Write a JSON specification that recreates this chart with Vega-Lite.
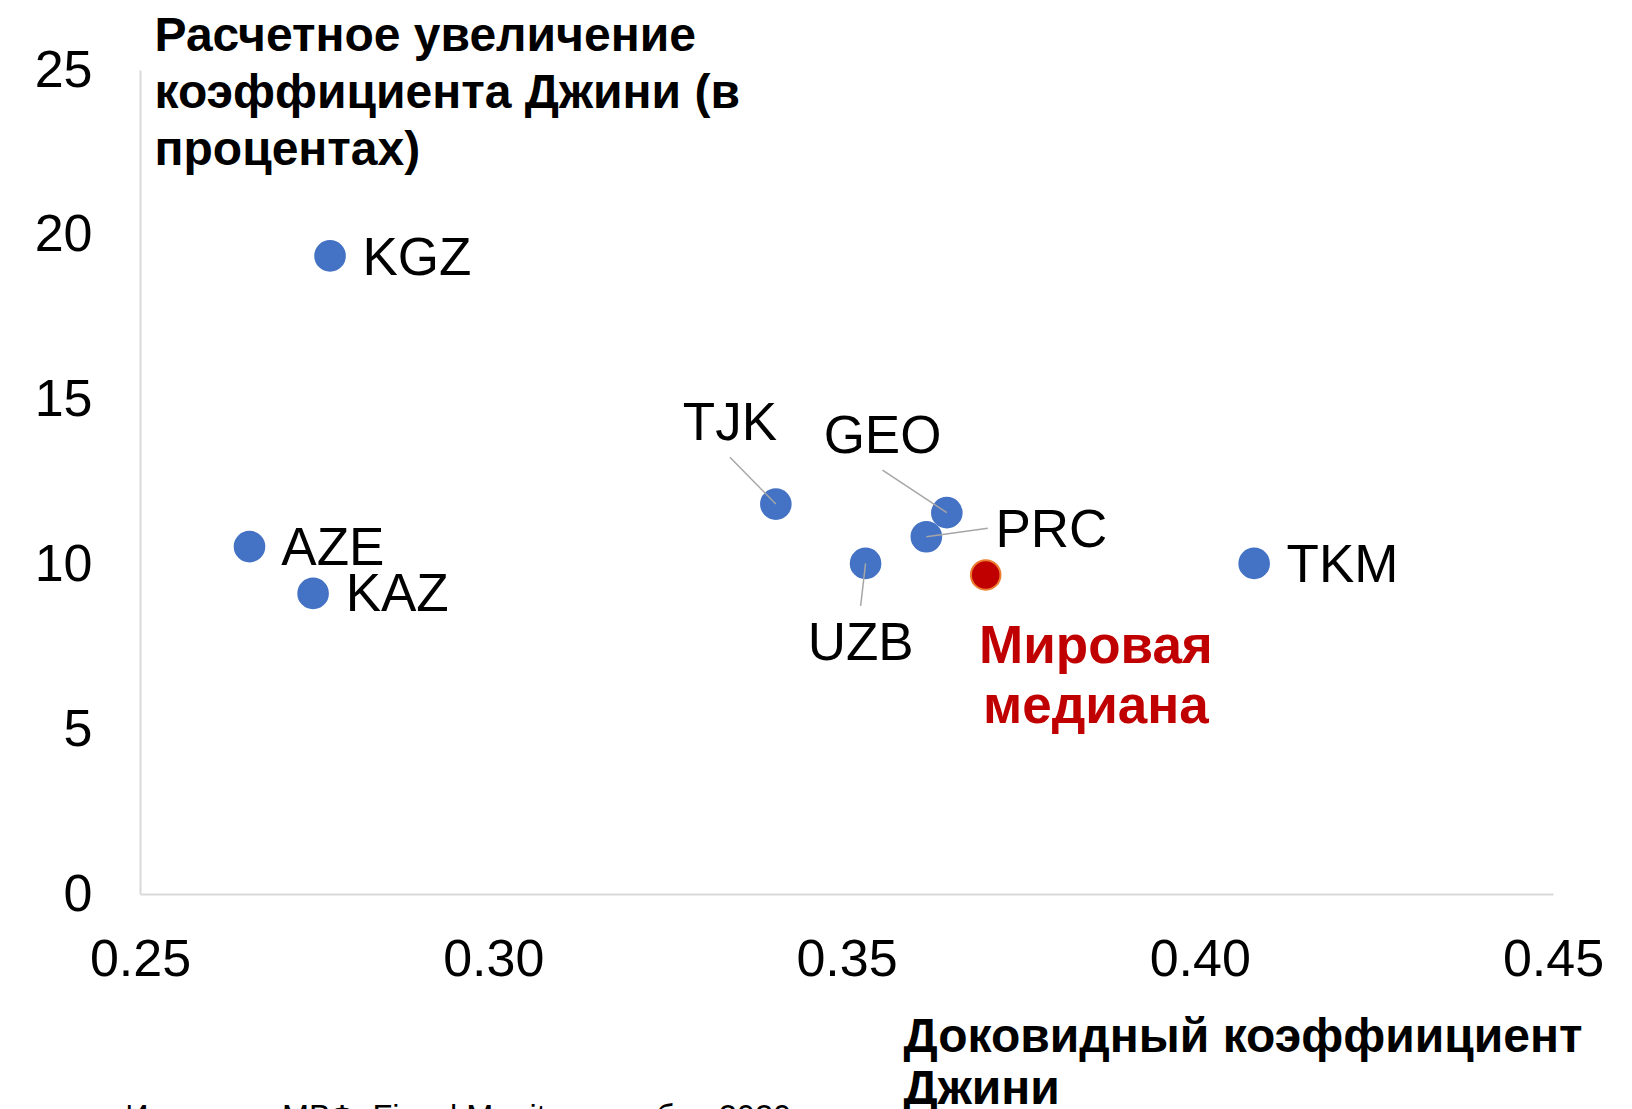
{
  "$schema": "https://vega.github.io/schema/vega-lite/v6.json",
  "width": 1413,
  "height": 824,
  "autosize": {"type": "none"},
  "padding": {"left": 140, "top": 70, "right": 79, "bottom": 215},
  "background": "white",
  "config": {"view": {"stroke": null}, "font": "Liberation Sans"},
  "datasets": {
    "pts": [
      {"country": "KGZ", "group": "country", "gini": 0.2769, "increase": 19.36, "label_x": 0.2892, "label_y": 19.27},
      {"country": "AZE", "group": "country", "gini": 0.2655, "increase": 10.54, "label_x": 0.2773, "label_y": 10.48},
      {"country": "KAZ", "group": "country", "gini": 0.2745, "increase": 9.12, "label_x": 0.2864, "label_y": 9.06},
      {"country": "TJK", "group": "country", "gini": 0.3400, "increase": 11.83, "label_x": 0.3335, "label_y": 14.27, "lead_x": 0.3335, "lead_y": 13.25},
      {"country": "GEO", "group": "country", "gini": 0.3642, "increase": 11.57, "label_x": 0.3551, "label_y": 13.87, "lead_x": 0.3551, "lead_y": 12.86},
      {"country": "PRC", "group": "country", "gini": 0.3613, "increase": 10.84, "label_x": 0.3790, "label_y": 11.02, "lead_x": 0.3700, "lead_y": 11.10},
      {"country": "UZB", "group": "country", "gini": 0.3527, "increase": 10.03, "label_x": 0.3520, "label_y": 7.58, "lead_x": 0.3520, "lead_y": 8.74},
      {"country": "TKM", "group": "country", "gini": 0.4077, "increase": 10.03, "label_x": 0.4202, "label_y": 9.95},
      {"country": "Мировая\nмедиана", "group": "median", "gini": 0.3697, "increase": 9.68, "label_x": 0.3853, "label_y": 7.48}
    ],
    "note": [
      {"text": "Источник: МВФ, Fiscal Monitor, октябрь 2020", "x": 0.2479, "y": -6.31}
    ]
  },
  "layer": [
    {
      "data": {"name": "pts"},
      "mark": {"type": "circle", "size": 876, "opacity": 1, "strokeWidth": 2},
      "encoding": {
        "x": {
          "field": "gini", "type": "quantitative",
          "scale": {"domain": [0.25, 0.45], "nice": false, "zero": false},
          "axis": {
            "values": [0.25, 0.30, 0.35, 0.40, 0.45], "format": ".2f",
            "labelFontSize": 52, "labelColor": "#000000", "labelPadding": 40,
            "labelFlush": false, "labelOverlap": false,
            "ticks": false, "grid": false,
            "domainColor": "#D9D9D9", "domainWidth": 2,
            "title": ["Доковидный коэффиициент", "Джини"],
            "titleFontSize": 48, "titleFontWeight": "bold", "titleColor": "#000000",
            "titleX": 763, "titleY": 157, "titleAlign": "left", "titleAnchor": "start",
            "titleBaseline": "alphabetic", "titleLineHeight": 52
          }
        },
        "y": {
          "field": "increase", "type": "quantitative",
          "scale": {"domain": [0, 25], "nice": false, "zero": false},
          "axis": {
            "values": [0, 5, 10, 15, 20, 25],
            "labelFontSize": 52, "labelColor": "#000000", "labelPadding": 48,
            "labelFlush": false, "labelOverlap": false,
            "ticks": false, "grid": false,
            "domainColor": "#D9D9D9", "domainWidth": 2,
            "title": ["Расчетное увеличение", "коэффициента Джини (в", "процентах)"],
            "titleFontSize": 48, "titleFontWeight": "bold", "titleColor": "#000000",
            "titleAngle": 0, "titleX": 14, "titleY": -20, "titleAlign": "left", "titleAnchor": "start",
            "titleBaseline": "alphabetic", "titleLineHeight": 57
          }
        },
        "color": {"field": "group", "type": "nominal", "scale": {"domain": ["country", "median"], "range": ["#4472C4", "#C00000"]}, "legend": null},
        "stroke": {"field": "group", "type": "nominal", "scale": {"domain": ["country", "median"], "range": ["#4472C4", "#ED7D31"]}, "legend": null}
      }
    },
    {
      "data": {"name": "pts"},
      "transform": [{"filter": "isValid(datum.lead_x)"}],
      "mark": {"type": "rule", "color": "#A6A6A6", "strokeWidth": 1.5},
      "encoding": {
        "x": {"field": "gini", "type": "quantitative", "scale": {"domain": [0.25, 0.45], "nice": false, "zero": false}},
        "y": {"field": "increase", "type": "quantitative", "scale": {"domain": [0, 25], "nice": false, "zero": false}},
        "x2": {"field": "lead_x"},
        "y2": {"field": "lead_y"}
      }
    },
    {
      "data": {"name": "pts"},
      "transform": [{"filter": "datum.group == 'country'"}],
      "mark": {"type": "text", "align": "center", "baseline": "middle", "fontSize": 53, "color": "#000000"},
      "encoding": {
        "x": {"field": "label_x", "type": "quantitative", "scale": {"domain": [0.25, 0.45], "nice": false, "zero": false}},
        "y": {"field": "label_y", "type": "quantitative", "scale": {"domain": [0, 25], "nice": false, "zero": false}},
        "text": {"field": "country"}
      }
    },
    {
      "data": {"name": "pts"},
      "transform": [{"filter": "datum.group == 'median'"}],
      "mark": {"type": "text", "align": "center", "baseline": "middle", "fontSize": 53, "fontWeight": "bold", "color": "#C00000", "lineBreak": "\n", "lineHeight": 60},
      "encoding": {
        "x": {"field": "label_x", "type": "quantitative", "scale": {"domain": [0.25, 0.45], "nice": false, "zero": false}},
        "y": {"field": "label_y", "type": "quantitative", "scale": {"domain": [0, 25], "nice": false, "zero": false}},
        "text": {"field": "country"}
      }
    },
    {
      "data": {"name": "note"},
      "mark": {"type": "text", "align": "left", "baseline": "top", "fontSize": 32.5, "color": "#000000"},
      "encoding": {
        "x": {"field": "x", "type": "quantitative", "scale": {"domain": [0.25, 0.45], "nice": false, "zero": false}},
        "y": {"field": "y", "type": "quantitative", "scale": {"domain": [0, 25], "nice": false, "zero": false}},
        "text": {"field": "text"}
      }
    }
  ]
}
